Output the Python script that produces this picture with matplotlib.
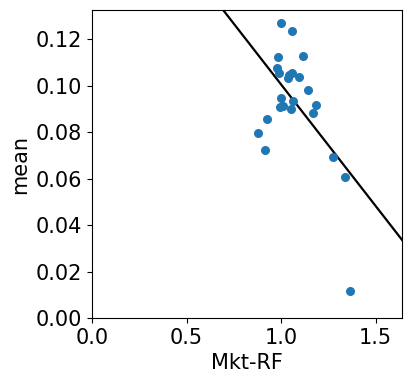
import numpy as np
import matplotlib.pyplot as plt

# betas (Mkt-RF) and mean returns
beta = [1.000, 1.058, 0.986, 1.118, 0.978, 0.991, 1.035, 1.056, 1.044, 1.097,
        1.145, 1.000, 1.065, 1.187, 1.009, 0.995, 1.055, 1.171, 0.927, 0.880,
        0.917, 1.277, 1.340, 1.367]
mean = [0.1269, 0.1233, 0.1121, 0.1127, 0.1074, 0.1052, 0.1031, 0.1052, 0.1045, 0.1035,
        0.0981, 0.0945, 0.0933, 0.0915, 0.0913, 0.0906, 0.0898, 0.0880, 0.0856, 0.0794,
        0.0721, 0.0691, 0.0605, 0.0115]

# fitted line
intercept = 0.205
slope = -0.1045

plt.rcParams["font.size"] = 15

fig = plt.figure(figsize=(4.11, 3.83), dpi=100)
ax = fig.add_axes([92 / 411, 1 - 318 / 383, 310 / 411, 308 / 383])

ax.scatter(beta, mean, s=30, color="#1f77b4", zorder=3)

xs = np.array([0.0, 1.7])
ax.plot(xs, intercept + slope * xs, color="black", linewidth=1.6)

ax.set_xlim(0, 1.64)
ax.set_ylim(0, 0.1325)
ax.set_xticks([0.0, 0.5, 1.0, 1.5])
ax.set_yticks([0.0, 0.02, 0.04, 0.06, 0.08, 0.10, 0.12])
ax.set_yticklabels([f"{v:.2f}" for v in [0.0, 0.02, 0.04, 0.06, 0.08, 0.10, 0.12]])
ax.set_xlabel("Mkt-RF")
ax.set_ylabel("mean")

fig.savefig("out.png", dpi=100)
